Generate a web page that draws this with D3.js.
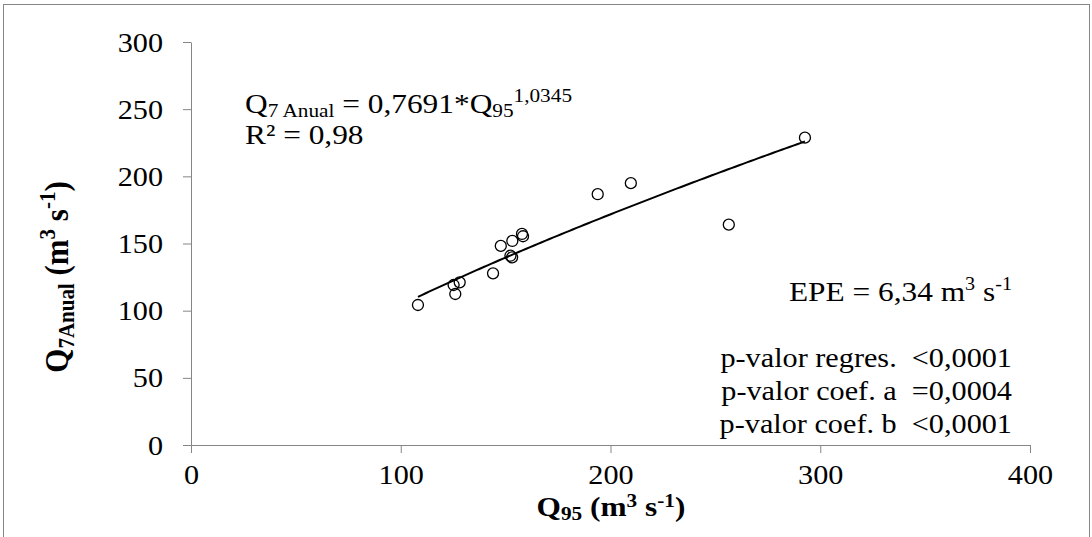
<!DOCTYPE html>
<html>
<head>
<meta charset="utf-8">
<script src="https://cdn.jsdelivr.net/npm/d3@7"></script>
<style>
  body { margin: 0; background: #fff; }
  svg { display: block; }
</style>
</head>
<body>
<svg id="chart" width="1092" height="537"></svg>
<script>
// Observed flows: Q95 against annual 7-day minimum flow (m³ s⁻¹)
const q95 = [108.2, 126.0, 125.2, 128.1, 144.0, 147.7, 153.2, 152.3, 153.1, 157.8, 158.3, 193.9, 209.7, 256.4, 292.7];
const q7Anual = [104.2, 112.4, 119.1, 121.1, 127.8, 148.2, 151.9, 140.9, 139.7, 157.1, 155.4, 186.7, 194.9, 164.0, 228.8];

const xTickValues = [0, 100, 200, 300, 400];
const yTickValues = [0, 50, 100, 150, 200, 250, 300];

// Annotation texts
const equationCoef = "0,7691";
const equationExp = "1,0345";
const r2Text = "R² = 0,98";
const epeValue = "6,34";
const pValueLabels = ["p-valor regres.\u00A0\u00A0", "p-valor coef. a\u00A0\u00A0", "p-valor coef. b\u00A0\u00A0"];
const pValueValues = ["<0,0001", "=0,0004", "<0,0001"];

const SX = 1.12;            // horizontal glyph stretch
const FS = 27;              // base font size
const axisColor = "#868686";
const serif = "'Liberation Serif', 'Times New Roman', serif";

const svg = d3.select("#chart");

// outer frame
svg.append("rect")
  .attr("x", 3.5).attr("y", 4.5).attr("width", 1086).attr("height", 600)
  .attr("fill", "none").attr("stroke", axisColor).attr("stroke-width", 1);

const x = d3.scaleLinear().domain([0, 400]).range([191, 1030]);
const y = d3.scaleLinear().domain([0, 300]).range([445, 42]);

// axes
const gx = svg.append("g")
  .attr("transform", `translate(0,${y(0)})`)
  .call(d3.axisBottom(x).tickValues(xTickValues).tickSize(8).tickSizeOuter(0).tickFormat(d3.format("d")));
const gy = svg.append("g")
  .attr("transform", `translate(${x(0)},0)`)
  .call(d3.axisLeft(y).tickValues(yTickValues).tickSize(8).tickSizeOuter(0).tickFormat(d3.format("d")));

[gx, gy].forEach(g => {
  g.attr("font-family", null).attr("font-size", null);
  g.select(".domain").attr("stroke", axisColor);
  g.selectAll(".tick line").attr("stroke", axisColor);
});
gx.selectAll(".tick text")
  .attr("y", null).attr("dy", null)
  .attr("transform", `translate(0,39) scale(${SX},1)`)
  .attr("fill", "#000")
  .style("font-family", serif).style("font-size", FS + "px");
gy.selectAll(".tick text")
  .attr("x", null).attr("dy", null)
  .attr("text-anchor", "end")
  .attr("transform", `translate(-28,9) scale(${SX},1)`)
  .attr("fill", "#000")
  .style("font-family", serif).style("font-size", FS + "px");

// power trendline fitted on log-log scale
const lx = q95.map(Math.log), ly = q7Anual.map(Math.log);
const mx = d3.mean(lx), my = d3.mean(ly);
const b = d3.sum(lx, (v, i) => (v - mx) * (ly[i] - my)) / d3.sum(lx, v => (v - mx) ** 2);
const a = Math.exp(my - b * mx);
const [xMin, xMax] = d3.extent(q95);
const trend = d3.range(0, 101).map(i => {
  const xv = xMin + (xMax - xMin) * i / 100;
  return [xv, a * Math.pow(xv, b)];
});
svg.append("path")
  .datum(trend)
  .attr("fill", "none").attr("stroke", "#000").attr("stroke-width", 2)
  .attr("d", d3.line().x(d => x(d[0])).y(d => y(d[1])));

// observations
svg.append("g").selectAll("circle")
  .data(q95.map((v, i) => [v, q7Anual[i]]))
  .join("circle")
  .attr("cx", d => x(d[0])).attr("cy", d => y(d[1]))
  .attr("r", 5.5)
  .attr("fill", "none").attr("stroke", "#000").attr("stroke-width", 1.3);

// text helper: pieces of [string, kind] where kind is "n", "sub" or "sup"
function richText(parent, px, py, pieces, opts = {}) {
  const size = opts.size || FS;
  const subSize = opts.sub || Math.round(size * 0.66);
  const subDy = opts.subDy || 5, supDy = opts.supDy || -11;
  const t = parent.append("text")
    .attr("transform", `translate(${px},${py}) scale(${SX},1)` + (opts.rotate ? ` rotate(${opts.rotate})` : ""))
    .attr("text-anchor", opts.anchor || "start")
    .attr("fill", "#000")
    .style("font-family", serif)
    .style("font-size", size + "px")
    .style("font-weight", opts.bold ? "bold" : "normal");
  let shift = 0;
  pieces.forEach(([s, kind]) => {
    const target = kind === "sub" ? subDy : kind === "sup" ? supDy : 0;
    const ts = t.append("tspan").attr("dy", target - shift).text(s);
    if (kind !== "n") ts.style("font-size", subSize + "px");
    shift = target;
  });
  return t;
}

// regression equation and R²
richText(svg, 245, 113, [
  ["Q", "n"], ["7 Anual", "sub"], [" = " + equationCoef + "*Q", "n"], ["95", "sub"], [equationExp, "sup"]
], { size: 28, sub: 19, subDy: 4 });
richText(svg, 245, 144, [[r2Text, "n"]], { size: 28 });

// standard error of estimate
richText(svg, 1012, 301, [
  ["EPE = " + epeValue + " m", "n"], ["3", "sup"], [" s", "n"], ["-1", "sup"]
], { size: 28, anchor: "end" });

// p-values
pValueLabels.forEach((lab, i) => {
  richText(svg, 1012, 367 + i * 33, [[lab + pValueValues[i], "n"]], { anchor: "end" });
});

// axis titles
richText(svg, 611, 516, [
  ["Q", "n"], ["95", "sub"], [" (m", "n"], ["3", "sup"], [" s", "n"], ["-1", "sup"], [")", "n"]
], { size: 28, sub: 19, subDy: 4, supDy: -9, bold: true, anchor: "middle" });

richText(svg, 68, 277, [
  ["Q", "n"], ["7Anual", "sub"], [" (m", "n"], ["3", "sup"], [" s", "n"], ["-1", "sup"], [")", "n"]
], { size: 31, sub: 21, supDy: -12, bold: true, anchor: "middle", rotate: -90 });
</script>
</body>
</html>
